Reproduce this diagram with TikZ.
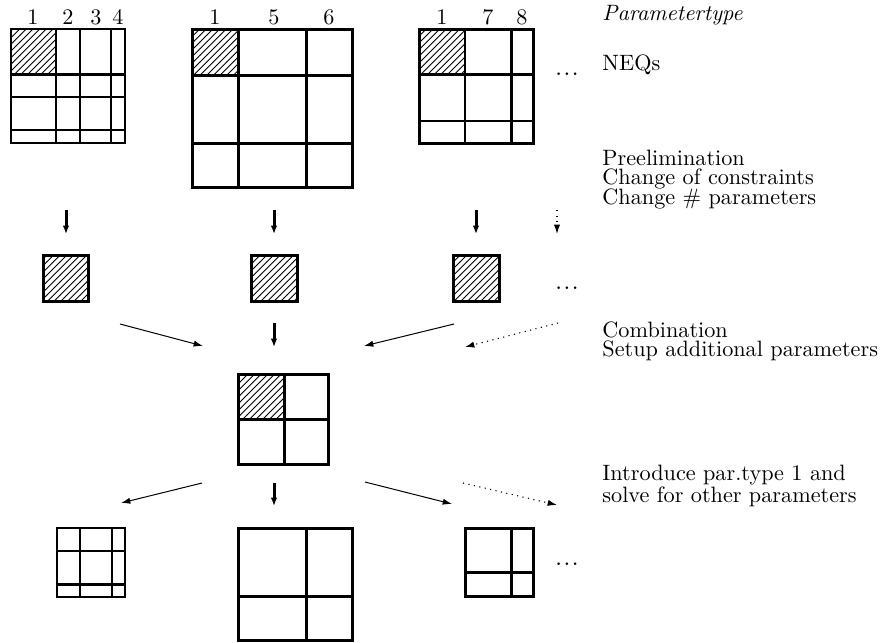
\documentclass[tikz,border=0pt]{standalone}
\usetikzlibrary{patterns,arrows.meta}
\newcommand{\threedots}{.\kern0.4pt.\kern0.4pt.}
\begin{document}
\begin{tikzpicture}[x=0.45pt,y=-0.45pt,
  grid/.style={line width=0.9pt},
  thk/.style={line width=1.35pt},
  hatch/.style={pattern=north east lines},
  smallsq/.style={draw,line width=1.35pt,pattern=north east lines,minimum size=20.5pt,inner sep=0pt},
  bigarrow/.style={line width=1.35pt,-{Latex[length=3.8pt,width=3pt]}},
  thinarrow/.style={line width=0.45pt,-{Latex[length=4.2pt,width=2.8pt]}},
  dotarrow/.style={line width=0.5pt,dotted,-{Latex[length=4.2pt,width=2.8pt]}},
  lbl/.style={inner sep=0pt,anchor=base},
  dotsnode/.style={inner sep=0pt,anchor=base,font=\large},
  txt/.style={inner sep=0pt,anchor=base west}]
\useasboundingbox (0,0) rectangle (884,642);

% ---------- top-left matrix ----------
\fill[hatch] (11,29) rectangle (56,74);
\draw[grid] (56,29) -- (56,143) (80,29) -- (80,143) (111,29) -- (111,143);
\draw[grid] (11,97) -- (125,97) (11,130) -- (125,130);
\draw[thk] (11,74) -- (125,74);
\draw[grid] (11,29) rectangle (125,143);
\node[lbl] (c1a) at (33,24) {1};
\node[lbl] (c2) at (68,24) {2};
\node[lbl] (c3) at (96,24) {3};
\node[lbl] (c4) at (118,24) {4};

% ---------- top-middle matrix ----------
\fill[hatch] (192,29) rectangle (238,75);
\draw[thk] (238,29) -- (238,187) (306,29) -- (306,187);
\draw[thk] (192,75) -- (352,75) (192,143) -- (352,143);
\draw[thk] (192,29) rectangle (352,187);
\node[lbl] (c1b) at (215,24) {1};
\node[lbl] (c5) at (274,24) {5};
\node[lbl] (c6) at (329,24) {6};

% ---------- top-right matrix ----------
\fill[hatch] (419,29) rectangle (465,74);
\draw[grid] (465,29) -- (465,143) (419,121) -- (533,121);
\draw[thk] (511,29) -- (511,143) (419,74) -- (533,74);
\draw[thk] (419,29) rectangle (533,143);
\node[lbl] (c1c) at (442,24) {1};
\node[lbl] (c7) at (488,24) {7};
\node[lbl] (c8) at (522,24) {8};
\node[dotsnode] (dots1) at (567,75) {\threedots};

% ---------- arrows row 1 ----------
\coordinate (a1s) at (66,210);  \coordinate (a1e) at (66,234);
\coordinate (a2s) at (274,210); \coordinate (a2e) at (274,234);
\coordinate (a3s) at (476,210); \coordinate (a3e) at (476,234);
\coordinate (a4s) at (557,210); \coordinate (a4e) at (557,234);
\draw[bigarrow] (a1s) -- (a1e);
\draw[bigarrow] (a2s) -- (a2e);
\draw[bigarrow] (a3s) -- (a3e);
\draw[dotarrow] (a4s) -- (a4e);

% ---------- small hatched squares ----------
\node[smallsq] (s1) at (66,278.5) {};
\node[smallsq] (s2) at (274.5,278.5) {};
\node[smallsq] (s3) at (476.5,278.5) {};
\node[dotsnode] (dots2) at (567,289) {\threedots};

% ---------- arrows row 2 ----------
\coordinate (b1s) at (120,324); \coordinate (b1e) at (203,346);
\coordinate (b2s) at (274,323); \coordinate (b2e) at (274,347);
\coordinate (b3s) at (454,324); \coordinate (b3e) at (364,346);
\coordinate (b4s) at (558,323); \coordinate (b4e) at (465,347);
\draw[thinarrow] (b1s) -- (b1e);
\draw[bigarrow] (b2s) -- (b2e);
\draw[thinarrow] (b3s) -- (b3e);
\draw[dotarrow] (b4s) -- (b4e);

% ---------- combination matrix ----------
\fill[hatch] (238,374) rectangle (284,419);
\draw[thk] (284,374) -- (284,464) (238,419) -- (328,419);
\draw[thk] (238,374) rectangle (328,464);

% ---------- arrows row 3 ----------
\coordinate (d1s) at (202,483); \coordinate (d1e) at (121,503);
\coordinate (d2s) at (274,483); \coordinate (d2e) at (274,506);
\coordinate (d3s) at (365,482); \coordinate (d3e) at (452,504);
\coordinate (d4s) at (463,483); \coordinate (d4e) at (557,505);
\draw[thinarrow] (d1s) -- (d1e);
\draw[bigarrow] (d2s) -- (d2e);
\draw[thinarrow] (d3s) -- (d3e);
\draw[dotarrow] (d4s) -- (d4e);

% ---------- bottom-left matrix ----------
\draw[grid] (80,528) -- (80,597) (111.5,528) -- (111.5,597) (57,551) -- (125,551);
\draw[thk] (57,584) -- (125,584);
\draw[grid] (57,528) rectangle (125,597);

% ---------- bottom-middle matrix ----------
\draw[thk] (306,528) -- (306,640) (238,596) -- (352,596);
\draw[thk] (238,528) rectangle (352,640);

% ---------- bottom-right matrix ----------
\draw[thk] (511,528) -- (511,596) (465,572) -- (533,572);
\draw[thk] (465,528) rectangle (533,596);
\node[dotsnode] (dots3) at (567,565) {\threedots};

% ---------- right-hand texts ----------
\node[txt] (t1) at (602,20) {\textit{Parametertype}};
\node[txt] (t2) at (602,70) {NEQs};
\node[txt] (t3) at (602,165) {Preelimination};
\node[txt] (t4) at (602,184) {Change of constraints};
\node[txt] (t5) at (602,204) {Change \# parameters};
\node[txt] (t6) at (602,337) {Combination};
\node[txt] (t7) at (602,356) {Setup additional parameters};
\node[txt] (t8) at (602,480) {Introduce par.type 1 and};
\node[txt] (t9) at (602,502) {solve for other parameters};
\end{tikzpicture}
\end{document}
